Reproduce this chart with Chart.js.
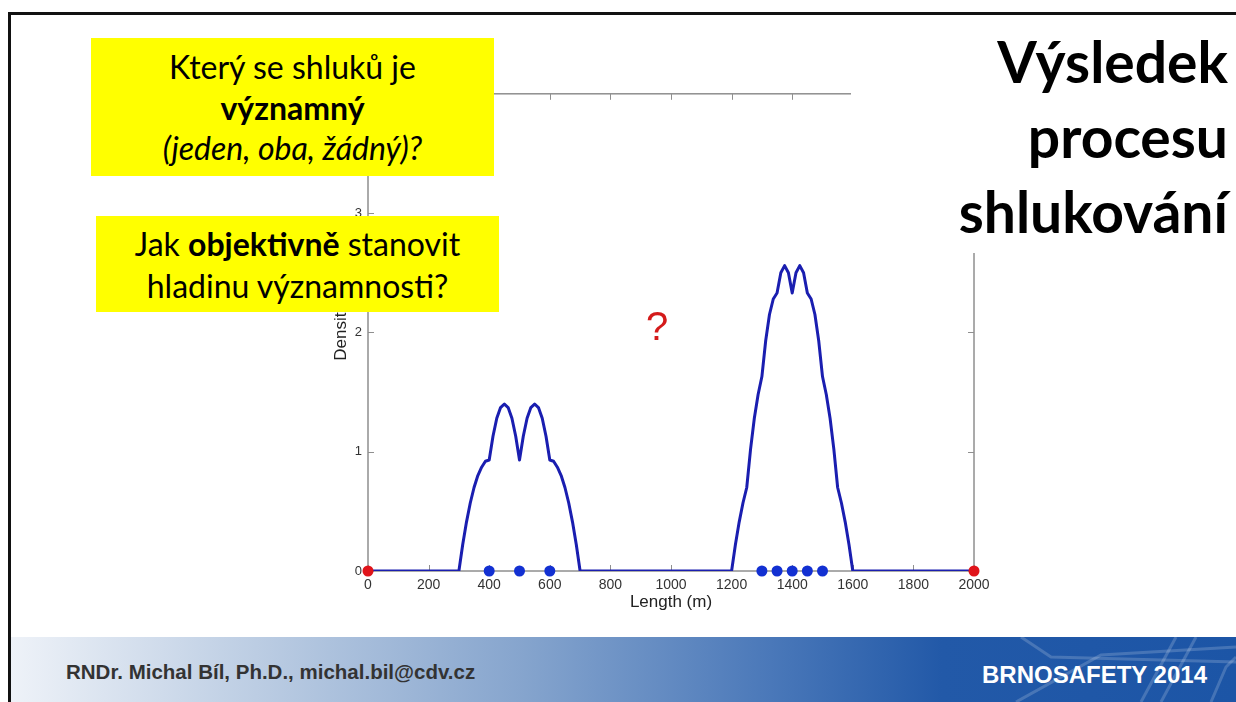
<!DOCTYPE html>
<html>
<head>
<meta charset="utf-8">
<script src="https://cdn.jsdelivr.net/npm/chart.js@4.4.0/dist/chart.umd.min.js"></script>
<style>
  body { margin: 0; width: 1236px; height: 702px; overflow: hidden; background: #fff; position: relative; font-family: Lato, "Open Sans", sans-serif; }
  #frame { position: absolute; left: 8px; top: 12px; right: 0; bottom: 0; border-top: 3px solid #111; border-left: 3px solid #111; }
  #kde { position: absolute; left: 320px; top: 80px; }
  .box { position: absolute; background: #ffff00; color: #000; text-align: center; font-size: 32px; box-sizing: border-box; }
  #box1 { left: 91px; top: 38px; width: 403px; height: 138px; line-height: 40.5px; padding-top: 9px; }
  #box2 { left: 96px; top: 216px; width: 403px; height: 96px; line-height: 42px; padding-top: 7px; }
  #titleMask { position: absolute; left: 851px; top: 16px; width: 385px; height: 237px; background: #fff; }
  #title { position: absolute; right: 8px; top: 24px; text-align: right; font-weight: bold; font-size: 57px; line-height: 75px; color: #000; }
  #quest { position: absolute; left: 646px; top: 304px; color: #d41a1a; font: 40px "Liberation Sans", Arial, sans-serif; }
  #footer { position: absolute; left: 11px; top: 637px; right: 0; bottom: 0; overflow: hidden;
    background: linear-gradient(to right, #eef2f8 0%, #bccde3 20%, #85a4cd 42%, #4a78b9 62%, #2259a8 76%, #1c55a6 100%); }
  #deco { position: absolute; left: 0; top: 0; }
  #author { position: absolute; left: 55px; top: 23px; font: bold 20.5px "Liberation Sans", Arial, sans-serif; color: #333; }
  #event { position: absolute; right: 29px; top: 24px; font: bold 24px "Liberation Sans", Arial, sans-serif; color: #fff; }
</style>
</head>
<body>
<div id="frame"></div>
<canvas id="kde" width="680" height="533"></canvas>
<div id="titleMask"></div>
<div id="title">Výsledek<br>procesu<br>shlukování</div>
<div class="box" id="box1">Který se shluků je<br><b>významný</b><br><i>(jeden, oba, žádný)?</i></div>
<div class="box" id="box2">Jak <b>objektivně</b> stanovit<br>hladinu významnosti?</div>
<div id="quest">?</div>
<div id="footer">
  <svg id="deco" width="1225" height="65" fill="none" stroke="#ffffff" stroke-opacity="0.18" stroke-width="3">
    <path d="M1010 0 L1040 20 L1225 25"/>
    <path d="M1005 65 L1090 18 L1225 10"/>
    <path d="M1130 65 L1165 0"/>
    <path d="M1150 65 L1185 0"/>
    <path d="M1200 65 L1215 30 L1225 20"/>
  </svg>
  <div id="author">RNDr. Michal Bíl, Ph.D., michal.bil@cdv.cz</div>
  <div id="event">BRNOSAFETY 2014</div>
</div>
<script>
// kernel density curve (metres along the road -> density)
var lengthM = [0, 300, 312.5, 325, 337.5, 350, 362.5, 375, 387.5, 400, 412.5, 425, 437.5, 450,
  462.5, 475, 487.5, 500, 512.5, 525, 537.5, 550, 562.5, 575, 587.5, 600, 612.5, 625, 637.5,
  650, 662.5, 675, 687.5, 700,
  1200, 1212.5, 1225, 1237.5, 1250, 1262.5, 1275, 1287.5, 1300, 1312.5, 1325, 1337.5, 1350,
  1362.5, 1375, 1387.5, 1400, 1412.5, 1425, 1437.5, 1450, 1462.5, 1475, 1487.5, 1500, 1512.5,
  1525, 1537.5, 1550, 1562.5, 1575, 1587.5, 1600, 2000];
var density = [0, 0, 0.22, 0.41, 0.57, 0.70, 0.80, 0.87, 0.92, 0.93, 1.13, 1.28, 1.37, 1.40,
  1.37, 1.28, 1.13, 0.93, 1.13, 1.28, 1.37, 1.40, 1.37, 1.28, 1.13, 0.93, 0.92, 0.87, 0.80,
  0.70, 0.57, 0.41, 0.22, 0,
  0, 0.22, 0.41, 0.57, 0.70, 1.02, 1.28, 1.48, 1.63, 1.93, 2.15, 2.28, 2.33,
  2.50, 2.56, 2.50, 2.33, 2.50, 2.56, 2.50, 2.33, 2.28, 2.15, 1.93, 1.63, 1.48,
  1.28, 1.02, 0.70, 0.57, 0.41, 0.22, 0, 0];

// accident positions (blue) and segment ends (red)
var accidentsM = [400, 500, 600, 1300, 1350, 1400, 1450, 1500];
var segmentEndsM = [0, 2000];

var xTicks = [0, 200, 400, 600, 800, 1000, 1200, 1400, 1600, 1800, 2000];
var yTicks = [0, 1, 2, 3, 4];

var axisGray = '#8f8f8f';

// MATLAB style box with inward ticks on all four sides
var boxTicks = {
  id: 'boxTicks',
  beforeDatasetsDraw: function(chart) {
    var ctx = chart.ctx, a = chart.chartArea;
    var sx = chart.scales.x, sy = chart.scales.y;
    ctx.save();
    ctx.strokeStyle = axisGray;
    ctx.lineWidth = 1.5;
    ctx.strokeRect(a.left, a.top, a.right - a.left, a.bottom - a.top);
    ctx.lineWidth = 1;
    ctx.beginPath();
    xTicks.forEach(function(v) {
      var px = Math.round(sx.getPixelForValue(v)) + 0.5;
      ctx.moveTo(px, a.bottom); ctx.lineTo(px, a.bottom - 6);
      ctx.moveTo(px, a.top); ctx.lineTo(px, a.top + 6);
    });
    yTicks.forEach(function(v) {
      var py = Math.round(sy.getPixelForValue(v)) + 0.5;
      ctx.moveTo(a.left, py); ctx.lineTo(a.left + 6, py);
      ctx.moveTo(a.right, py); ctx.lineTo(a.right - 6, py);
    });
    ctx.stroke();
    ctx.restore();
  }
};

var curvePoints = [];
for (var i = 0; i < lengthM.length; i++) {
  curvePoints.push({x: lengthM[i], y: density[i]});
}

new Chart(document.getElementById('kde'), {
  type: 'line',
  data: {
    datasets: [
      {
        data: accidentsM.map(function(m) { return {x: m, y: 0}; }),
        showLine: false, pointRadius: 5.5, pointBackgroundColor: '#1230d2',
        pointBorderWidth: 0, clip: false, order: 0
      },
      {
        data: segmentEndsM.map(function(m) { return {x: m, y: 0}; }),
        showLine: false, pointRadius: 5.5, pointBackgroundColor: '#e0141a',
        pointBorderWidth: 0, clip: false, order: 0
      },
      {
        data: curvePoints, borderColor: '#1a1eb0', borderWidth: 3, tension: 0,
        pointRadius: 0, borderJoinStyle: 'round', fill: false, order: 1
      }
    ]
  },
  options: {
    responsive: false,
    animation: false,
    layout: { padding: { left: 11, top: 11, right: 26, bottom: 0 } },
    plugins: { legend: { display: false }, tooltip: { enabled: false } },
    scales: {
      x: {
        type: 'linear', min: 0, max: 2000,
        afterBuildTicks: function(s) { s.ticks = xTicks.map(function(v) { return {value: v}; }); },
        afterFit: function(s) { s.height = 42; },
        grid: { display: false, drawTicks: false },
        border: { display: false },
        ticks: { padding: 6, color: '#333', font: { family: 'Liberation Sans', size: 14 }, maxRotation: 0,
          callback: function(v) { return String(v); } },
        title: { display: true, text: 'Length (m)', color: '#222', padding: 0,
          font: { family: 'Liberation Sans', size: 17 } }
      },
      y: {
        min: 0, max: 4,
        afterBuildTicks: function(s) { s.ticks = yTicks.map(function(v) { return {value: v}; }); },
        afterFit: function(s) { s.width = 37; },
        grid: { display: false, drawTicks: false },
        border: { display: false },
        ticks: { padding: 6, color: '#333', font: { family: 'Liberation Sans', size: 13 },
          callback: function(v) { return String(v); } },
        title: { display: true, text: 'Density', color: '#222', padding: 0,
          font: { family: 'Liberation Sans', size: 17 } }
      }
    }
  },
  plugins: [boxTicks]
});
</script>
</body>
</html>
